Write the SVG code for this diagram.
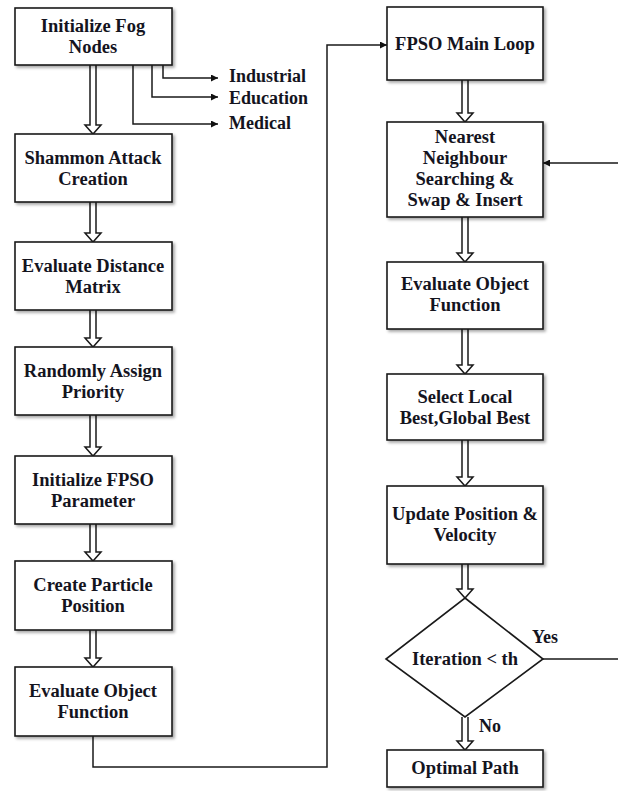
<svg xmlns="http://www.w3.org/2000/svg" width="618" height="791" viewBox="0 0 618 791">
<defs>
<filter id="sh" x="-10%" y="-10%" width="130%" height="130%">
<feDropShadow dx="2" dy="2" stdDeviation="1.5" flood-color="#000" flood-opacity="0.35"/>
</filter>
<marker id="ah" viewBox="0 0 10 10" refX="10" refY="5" markerWidth="9" markerHeight="7" markerUnits="userSpaceOnUse" orient="auto">
<path d="M0,0 L10,5 L0,10 z" fill="#111"/>
</marker>
</defs>
<style>
.box{fill:#fff;stroke:#1a1a1a;stroke-width:1.6;filter:url(#sh)}
.t{font-family:"Liberation Serif","Times New Roman",serif;font-weight:bold;font-size:18.5px;fill:#14141e;text-anchor:middle}
.l{font-family:"Liberation Serif","Times New Roman",serif;font-weight:bold;font-size:18px;fill:#14141e}
.ln{fill:none;stroke:#1a1a1a;stroke-width:1.5}
.da{fill:#fff;stroke:#1a1a1a;stroke-width:1.5;stroke-linejoin:miter}
</style>
<rect width="618" height="791" fill="#fff"/>

<g id="connectors">
<!-- left column double arrows -->
<path class="da" d="M90,65 V125 H85 L93,134 L101,125 H96 V65"/>
<path class="da" d="M90,202 V233 H85 L93,242 L101,233 H96 V202"/>
<path class="da" d="M90,310 V338 H85 L93,347 L101,338 H96 V310"/>
<path class="da" d="M90,415 V447 H85 L93,456 L101,447 H96 V415"/>
<path class="da" d="M90,524 V552 H85 L93,561 L101,552 H96 V524"/>
<path class="da" d="M90,630 V658 H85 L93,667 L101,658 H96 V630"/>
<!-- right column double arrows -->
<path class="da" d="M462,80 V113 H457 L465,122 L473,113 H468 V80"/>
<path class="da" d="M462,217 V253 H457 L465,262 L473,253 H468 V217"/>
<path class="da" d="M462,329 V365 H457 L465,374 L473,365 H468 V329"/>
<path class="da" d="M462,440 V477 H457 L465,486 L473,477 H468 V440"/>
<path class="da" d="M462,564 V589 H457 L465,598 L473,589 H468 V564"/>
<path class="da" d="M462,717 V741 H457 L465,750 L473,741 H468 V717"/>
<!-- branch lines -->
<path class="ln" d="M163,65 V78 H218" marker-end="url(#ah)"/>
<path class="ln" d="M152,65 V97 H218" marker-end="url(#ah)"/>
<path class="ln" d="M133,65 V124 H218" marker-end="url(#ah)"/>
<!-- bottom connector to FPSO main loop -->
<path class="ln" d="M93,736 V767 H327 V45 H387" marker-end="url(#ah)"/>
<!-- yes loop (vertical run lies at the right edge) -->
<path class="ln" d="M543,659 H619 V163 H543" marker-end="url(#ah)"/>
</g>

<g id="n1"><rect class="box" x="15" y="8" width="157" height="57"/><text class="t" x="93" y="31.5">Initialize Fog</text><text class="t" x="93" y="52.5">Nodes</text></g>
<g id="n2"><rect class="box" x="15" y="134" width="157" height="68"/><text class="t" x="93" y="163.5">Shammon Attack</text><text class="t" x="93" y="184.5">Creation</text></g>
<g id="n3"><rect class="box" x="15" y="242" width="157" height="68"/><text class="t" x="93" y="271.5">Evaluate Distance</text><text class="t" x="93" y="292.5">Matrix</text></g>
<g id="n4"><rect class="box" x="15" y="347" width="157" height="68"/><text class="t" x="93" y="376.5">Randomly Assign</text><text class="t" x="93" y="397.5">Priority</text></g>
<g id="n5"><rect class="box" x="15" y="456" width="157" height="68"/><text class="t" x="93" y="485.5">Initialize FPSO</text><text class="t" x="93" y="506.5">Parameter</text></g>
<g id="n6"><rect class="box" x="15" y="561" width="157" height="69"/><text class="t" x="93" y="591">Create Particle</text><text class="t" x="93" y="612">Position</text></g>
<g id="n7"><rect class="box" x="15" y="667" width="157" height="69"/><text class="t" x="93" y="697">Evaluate Object</text><text class="t" x="93" y="718">Function</text></g>

<g id="labels">
<text class="l" x="229" y="82">Industrial</text>
<text class="l" x="229" y="104">Education</text>
<text class="l" x="229" y="129">Medical</text>
</g>

<g id="r1"><rect class="box" x="387" y="7" width="156" height="73"/><text class="t" x="465" y="49.5">FPSO Main Loop</text></g>
<g id="r2"><rect class="box" x="387" y="122" width="156" height="95"/><text class="t" x="465" y="142.5">Nearest</text><text class="t" x="465" y="163.5">Neighbour</text><text class="t" x="465" y="184.5">Searching &amp;</text><text class="t" x="465" y="205.5">Swap &amp; Insert</text></g>
<g id="r3"><rect class="box" x="387" y="262" width="156" height="67"/><text class="t" x="465" y="290">Evaluate Object</text><text class="t" x="465" y="311">Function</text></g>
<g id="r4"><rect class="box" x="387" y="374" width="156" height="66"/><text class="t" x="465" y="402.5">Select Local</text><text class="t" x="465" y="423.5">Best,Global Best</text></g>
<g id="r5"><rect class="box" x="387" y="486" width="156" height="78"/><text class="t" x="465" y="520">Update Position &amp;</text><text class="t" x="465" y="541">Velocity</text></g>
<g id="r6"><path d="M465,598 L543,659 L465,717 L386,659 Z" fill="#fff" stroke="#1a1a1a" stroke-width="1.6"/><text class="t" x="465" y="665">Iteration &lt; th</text></g>
<g id="r7"><rect class="box" x="387" y="750" width="156" height="37"/><text class="t" x="465" y="774">Optimal Path</text></g>

<g id="edge-labels">
<text class="l" x="532" y="643">Yes</text>
<text class="l" x="479" y="732">No</text>
</g>
</svg>
